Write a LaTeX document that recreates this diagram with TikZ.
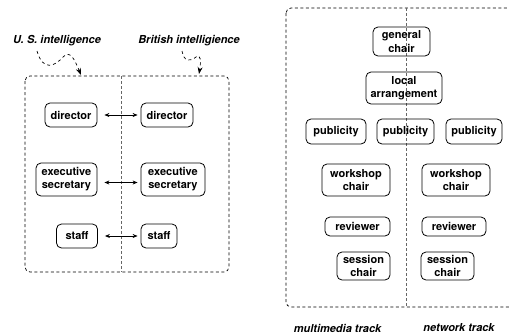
\documentclass[tikz,border=0pt]{standalone}
\usepackage{fontspec}
\setmainfont{TeX Gyre Heros}
\usetikzlibrary{arrows.meta}
\begin{document}
\begin{tikzpicture}[x=1pt,y=-1pt,
  box/.style={draw, rounded corners=5pt, line width=0.8pt, align=center, inner sep=1pt,
    font=\fontsize{11}{13.2}\selectfont\bfseries},
  lbl/.style={font=\fontsize{11}{13.2}\selectfont\bfseries\itshape},
  frame/.style={dashed, dash pattern=on 3pt off 2.5pt, line width=0.7pt, rounded corners=5pt},
  divider/.style={dashed, dash pattern=on 3pt off 2pt, line width=0.7pt, draw=black!60},
  link/.style={{Stealth[length=5pt,width=4pt]}-{Stealth[length=5pt,width=4pt]}, line width=0.7pt},
  pointer/.style={dashed, dash pattern=on 3pt off 3pt, line width=0.7pt, -{Stealth[length=7pt,width=5pt]}}]
\useasboundingbox (0,0) rectangle (509,335);
\clip (0,0) rectangle (509,335);
% left frame
\draw[frame] (25,76) rectangle (229,272);
\draw[divider] (121,76) -- (121,272);
\node[lbl] (us) at (57,41) {U. S. intelligence};
\node[lbl] (br) at (189,41) {British intelligience};
\coordinate (ust) at (81,75);
\coordinate (brt) at (199,74);
\draw[pointer] (37,51) .. controls (43,72) and (55,66) .. (63,57) .. controls (70,50) and (74,58) .. (ust);
\draw[pointer] (182,51) .. controls (184,62) and (190,62) .. (196,57) .. controls (201,53) and (201,62) .. (brt);
% left nodes
\node[box, minimum width=52pt, minimum height=24pt] (d1) at (71,115) {director};
\node[box, minimum width=52pt, minimum height=24pt] (d2) at (167,115) {director};
\node[box, minimum width=61pt, minimum height=33pt] (e1) at (66.5,179.5) {executive\\secretary};
\node[box, minimum width=64pt, minimum height=33pt] (e2) at (173,179.5) {executive\\secretary};
\node[box, minimum width=41pt, minimum height=24pt] (s1) at (77,236) {staff};
\node[box, minimum width=36pt, minimum height=24pt] (s2) at (159,236) {staff};
\draw[link] ([xshift=7pt]d1.east) -- ([xshift=-3pt]d2.west);
\draw[link] ([xshift=7pt,yshift=-3pt]e1.east) -- ([xshift=-3pt,yshift=-3pt]e2.west);
\draw[link] ([xshift=7pt]s1.east) -- ([xshift=-3pt]s2.west);
% right frame
\draw[frame] (286,8) rectangle (560,307);
\draw[divider] (406,8) -- (406,307);
\node[box, minimum width=57pt, minimum height=29pt] (gc) at (401.5,41.5) {general\\chair};
\node[box, minimum width=76pt, minimum height=32pt] (la) at (404,88) {local\\arrangement};
\node[box, minimum width=60pt, minimum height=25pt] (p1) at (336,131.5) {publicity};
\node[box, minimum width=57pt, minimum height=25pt] (p2) at (405.5,131.5) {publicity};
\node[box, minimum width=56pt, minimum height=25pt] (p3) at (474,131.5) {publicity};
\node[box, minimum width=68pt, minimum height=32pt] (w1) at (356,180) {workshop\\chair};
\node[box, minimum width=68pt, minimum height=32pt] (w2) at (456,180) {workshop\\chair};
\node[box, minimum width=65pt, minimum height=19pt] (r1) at (357.5,226.5) {reviewer};
\node[box, minimum width=64pt, minimum height=19pt] (r2) at (454,226.5) {reviewer};
\node[box, minimum width=53pt, minimum height=28pt] (c1) at (363.5,266) {session\\chair};
\node[box, minimum width=53pt, minimum height=28pt] (c2) at (447.5,266) {session\\chair};
\node[lbl] (mt) at (337.5,328) {multimedia track};
\node[lbl] (nt) at (459,328) {network track};
\end{tikzpicture}
\end{document}
